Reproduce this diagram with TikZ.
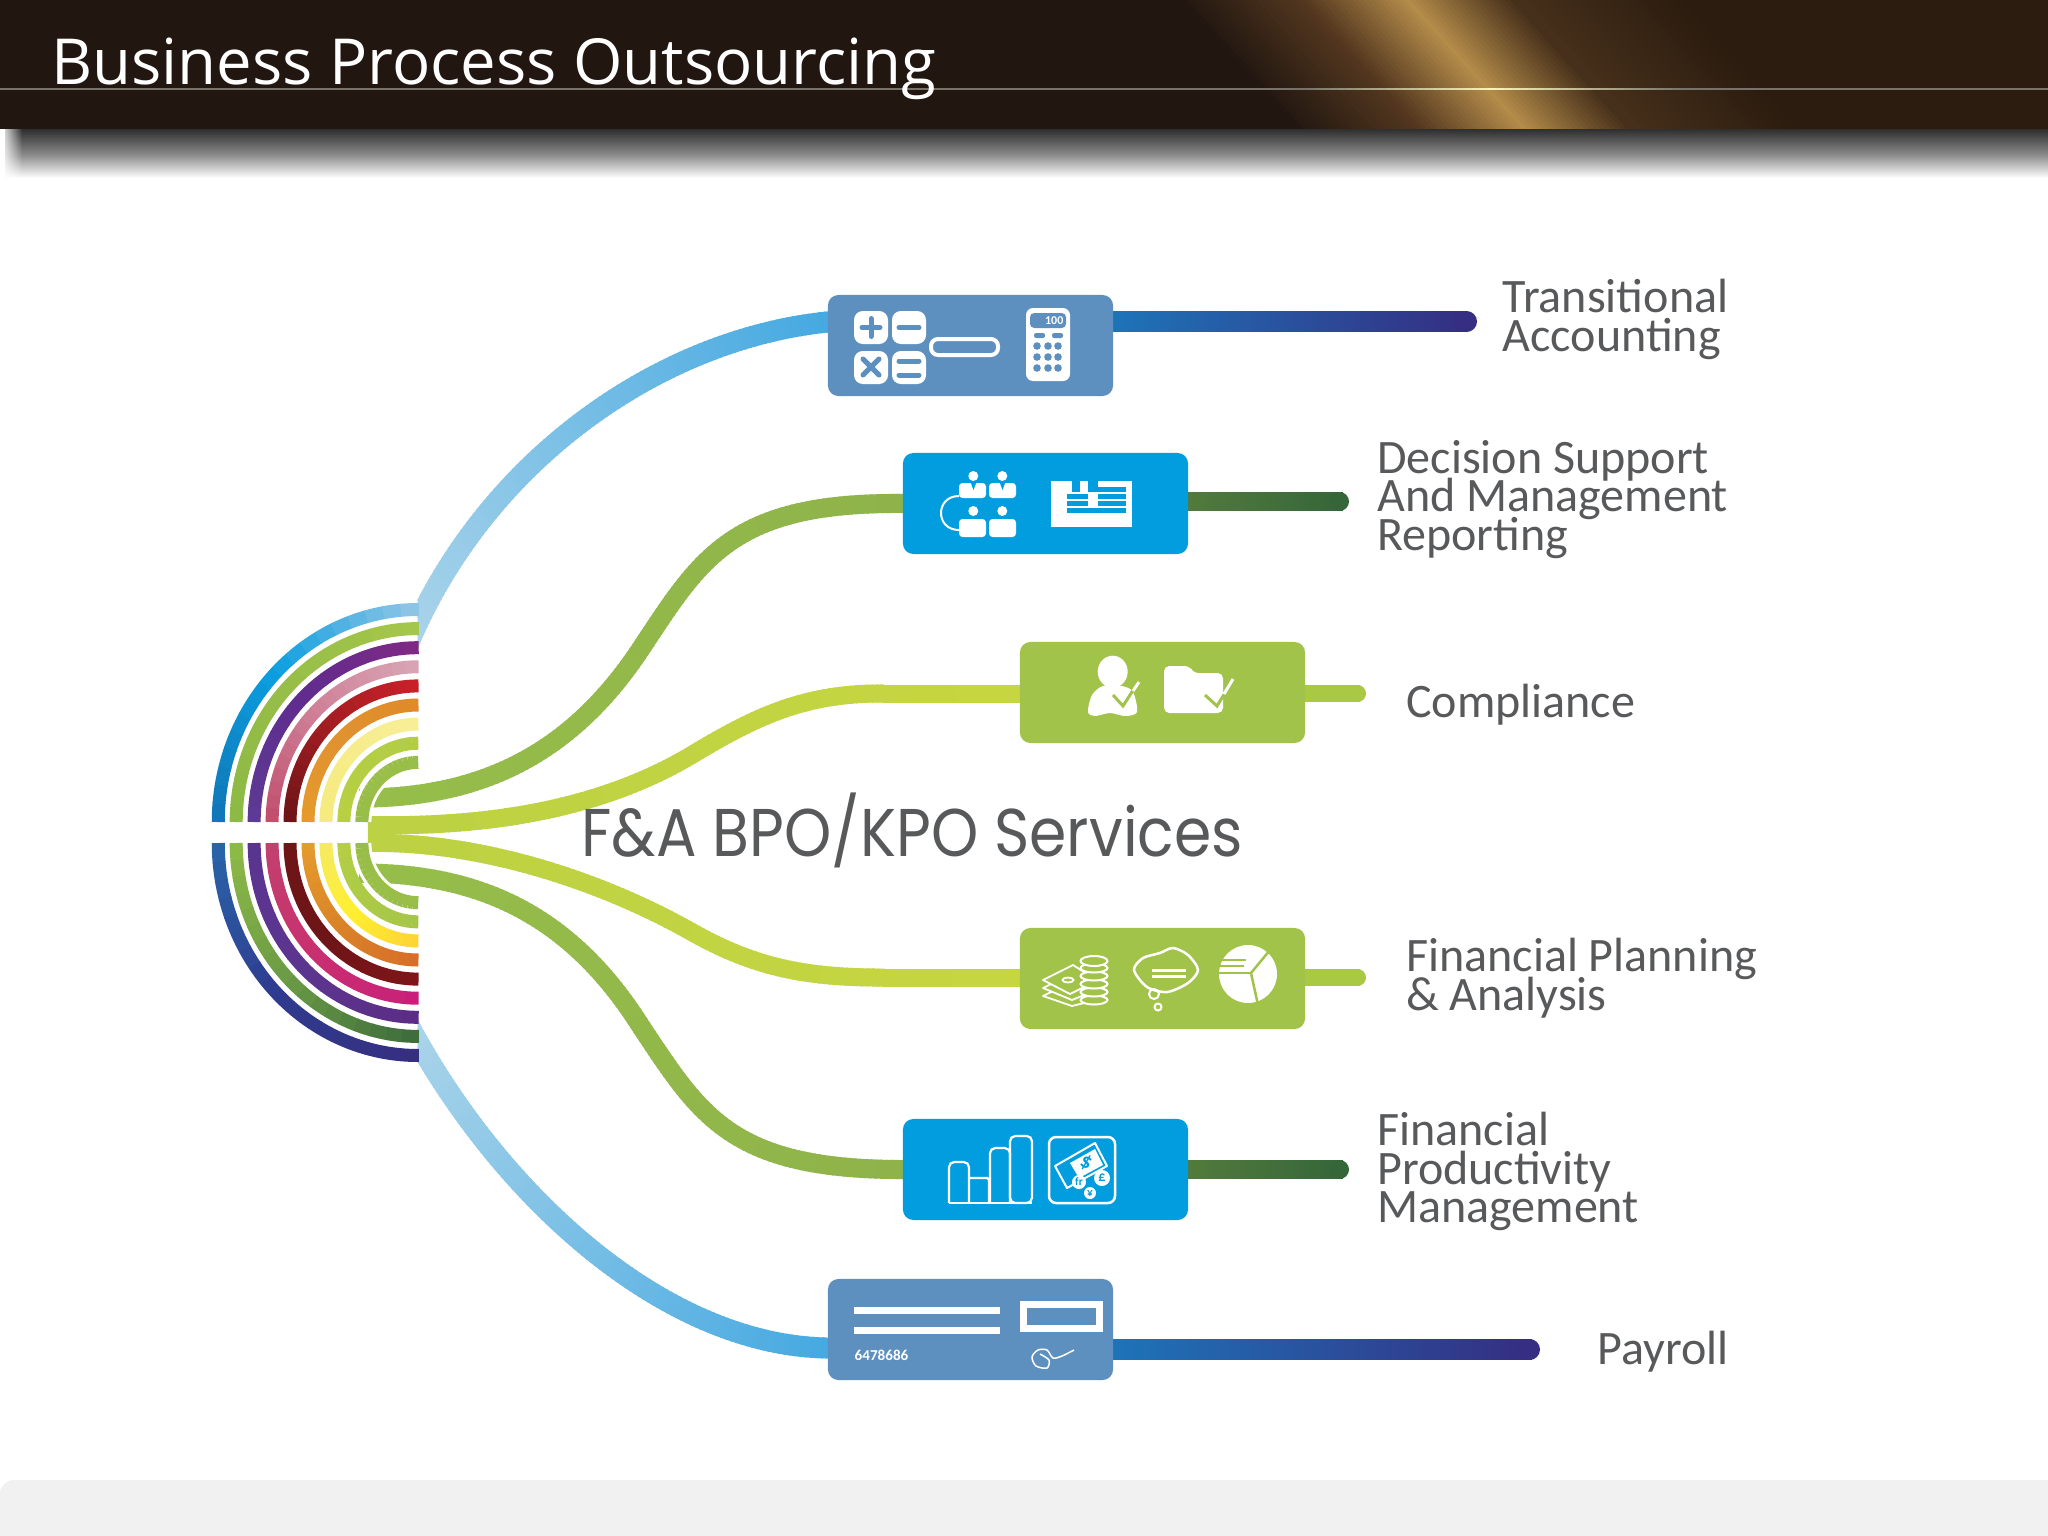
\documentclass[tikz,border=0pt]{standalone}
\usepackage{fontspec}
\setmainfont{Carlito}
\newfontfamily\titlefont{Open Sans}
\newfontfamily\svcfont{Poppins}
\usetikzlibrary{calc, backgrounds, fadings, decorations.markings}

\definecolor{headdark}{HTML}{211710}
\definecolor{headright}{HTML}{2B1C0F}
\definecolor{beamgold}{HTML}{B48C4A}
\definecolor{beambrown}{HTML}{53371F}
\definecolor{beamfall}{HTML}{47301B}
\definecolor{steelbox}{HTML}{5E90BF}
\definecolor{cyanbox}{HTML}{019DDE}
\definecolor{limebox}{HTML}{A2C34A}
\definecolor{labelgray}{HTML}{58595B}
\definecolor{footgray}{HTML}{F1F1F2}
\definecolor{skyL}{HTML}{ADD5EA}
\definecolor{skyR}{HTML}{45A9E1}
\definecolor{grassL}{HTML}{96BE4A}
\definecolor{grassR}{HTML}{8FB34A}
\definecolor{limeL}{HTML}{BCD143}
\definecolor{limeR}{HTML}{C6D640}
\definecolor{navyL}{HTML}{1E73B8}
\definecolor{navyR}{HTML}{352E82}
\definecolor{mossL}{HTML}{527A3C}
\definecolor{mossR}{HTML}{35663A}
\definecolor{stublime}{HTML}{A9C945}
\definecolor{rulegray}{HTML}{77736A}
\definecolor{ruleglow}{HTML}{FBF3B8}

\newcommand{\tightlabel}{\fontsize{13.66}{10.81}\selectfont\lineskiplimit=-20pt\relax}

% one half ring: index, centre y, direction, three colours as hex
\newcommand{\ringband}[6]{%
  \definecolor{ringA}{HTML}{#4}\definecolor{ringB}{HTML}{#5}\definecolor{ringC}{HTML}{#6}%
  \pgfmathsetmacro\ry{212.5-19.1*#1}%
  \pgfmathsetmacro\rx{0.94*\ry}%
  \foreach \st in {0,...,17}{%
    \pgfmathsetmacro\ang{180+#3*5*\st}%
    \pgfmathsetmacro\wa{100*\st/8.5}%
    \pgfmathsetmacro\wb{100*(\st-8.5)/8.5}%
    \ifnum\st<9
      \colorlet{ringmix}{ringB!\wa!ringA}%
    \else
      \colorlet{ringmix}{ringC!\wb!ringB}%
    \fi
    \draw[ringmix, line width=0.13cm]
      ({418+\rx*cos(\ang)},{#2+\ry*sin(\ang)})
      arc[start angle=\ang, delta angle=#3*5.25, x radius=\rx, y radius=\ry];
  }%
}

\begin{document}
\begin{tikzpicture}[
  x=0.01cm, y=0.01cm,
  servicebox/.style = {
    rounded corners=3pt,
    minimum width=2.85cm,
    minimum height=1.01cm,
    inner sep=0pt
  },
  svclabel/.style = {
    anchor=base west,
    align=left,
    inner sep=0pt,
    text=labelgray,
    font=\tightlabel
  },
  gradstroke/.style n args = {3}{
    decorate,
    decoration={markings, mark=between positions 0 and 1 step 1.5pt with {
      \pgfmathsetmacro\mixval{min(100,\pgfkeysvalueof{/pgf/decoration/mark info/distance from start}/\pgfdecoratedpathlength*100)}
      \draw[line width=#3, color=#2!\mixval!#1] (-0.3pt,0) -- (1.8pt,0);
    }}
  }
]
\useasboundingbox (0,0) rectangle (2048,-1536);

% Header band with the gold beam
\fill[headdark] (0,0) rectangle (2048,-129);
\begin{scope}
  \clip (0,0) rectangle (2048,-129);
  \begin{scope}[xslant=-0.907]
    \fill[headright] (1680,0) rectangle (2300,-129);
    \foreach \xa/\xb/\ca/\cb in {1175/1300/headdark/beambrown, 1300/1405/beambrown/beamgold,
        1405/1510/beamgold/beamfall, 1510/1680/beamfall/headright}{
      \foreach \k in {0,...,19}{
        \pgfmathsetmacro\xk{\xa+(\xb-\xa)*\k/20}
        \pgfmathsetmacro\wk{(\xb-\xa)/20+1}
        \pgfmathsetmacro\mk{100*\k/20}
        \fill[\cb!\mk!\ca] (\xk,0) rectangle ++(\wk,-129);
      }
    }
  \end{scope}
\end{scope}
\fill[rulegray] (0,-87.5) rectangle (2048,-90);
\foreach \xa/\xb/\ca/\cb in {1300/1488/rulegray/ruleglow, 1488/1680/ruleglow/rulegray}{
  \foreach \k in {0,...,23}{
    \pgfmathsetmacro\xk{\xa+(\xb-\xa)*\k/24}
    \pgfmathsetmacro\wk{(\xb-\xa)/24+0.5}
    \pgfmathsetmacro\mk{100*\k/24}
    \fill[\cb!\mk!\ca] (\xk,-87.5) rectangle ++(\wk,-2.5);
  }
}

% Shadow under the band
\shade[top color=black!82, bottom color=black!45] (5,-129) rectangle (2048,-155);
\shade[top color=black!45, bottom color=white] (5,-155) rectangle (2048,-178);
\fill[white, path fading=east] (0,-129) rectangle (22,-178);

\node[anchor=base west, inner sep=0pt, text=white,
      font=\titlefont\fontsize{18.05}{22}\selectfont] (title) at (50.5,-84) {Business Process Outsourcing};

% Service boxes
\node[servicebox, fill=steelbox] (TA) at (970.5,-345.5) {};
\node[servicebox, fill=cyanbox] (DS) at (1045.5,-503.5) {};
\node[servicebox, fill=limebox] (CO) at (1162.5,-692.5) {};
\node[servicebox, fill=limebox] (FP) at (1162.5,-978.5) {};
\node[servicebox, fill=cyanbox] (FM) at (1045.5,-1169.5) {};
\node[servicebox, fill=steelbox] (PY) at (970.5,-1329.5) {};

% Free ends of the stubs and rim points on the hub
\coordinate (TAend) at (1466.5,-321.5);
\coordinate (DSend) at (1339.5,-501.5);
\coordinate (COend) at (1357.5,-693.5);
\coordinate (FPend) at (1357.5,-977.5);
\coordinate (FMend) at (1339.5,-1169.5);
\coordinate (PYend) at (1529.5,-1349.5);
\coordinate (hubTA) at (405,-652);
\coordinate (hubDS) at (360,-798);
\coordinate (hubCO) at (369,-825);
\coordinate (hubFP) at (369,-843);
\coordinate (hubFM) at (360,-873);
\coordinate (hubPY) at (405,-1018);

\begin{scope}[on background layer]
  \fill[white] (0,0) rectangle (2048,-1536);
  \fill[footgray, rounded corners=4pt] (0,-1480) rectangle (2060,-1560);

  % Curves from the hub to the boxes
  \begin{scope}
    \clip (417.5,-280) rectangle (900,-1400);
    \path[gradstroke={skyL}{skyR}{0.21cm}] (hubTA)
      .. controls (480,-465) and (655,-340) .. ($(TA.west)+(0,23.5)$);
    \path[gradstroke={skyL}{skyR}{0.21cm}] (hubPY)
      .. controls (495,-1190) and (660,-1345) .. ($(PY.west)+(0,-18.5)$);
  \end{scope}
  \path[gradstroke={grassL}{grassR}{0.19cm}] (hubDS)
    .. controls (480,-798) and (570,-755) .. (640,-650)
    .. controls (700,-560) and (730,-502) .. (DS.west);
  \path[gradstroke={limeL}{limeR}{0.18cm}] (hubCO)
    .. controls (470,-827) and (590,-815) .. (690,-756)
    .. controls (750,-720) and (800,-693.5) .. (880,-693.5)
    -- ($(CO.west)+(0,-1)$);
  \path[gradstroke={limeL}{limeR}{0.18cm}] (hubFP)
    .. controls (470,-841) and (590,-875) .. (690,-931)
    .. controls (750,-965) and (800,-977.5) .. (880,-977.5)
    -- ($(FP.west)+(0,1)$);
  \path[gradstroke={grassL}{grassR}{0.19cm}] (hubFM)
    .. controls (480,-873) and (570,-915) .. (640,-1025)
    .. controls (700,-1115) and (730,-1169.5) .. (FM.west);

  % Stubs from the boxes to the free ends
  \path[gradstroke={navyL}{navyR}{0.21cm}] ($(TA.east)+(0,24)$) -- (TAend);
  \fill[navyR] (TAend) circle (10.5);
  \path[gradstroke={mossL}{mossR}{0.19cm}] ($(DS.east)+(0,2)$) -- (DSend);
  \fill[mossR] (DSend) circle (9.5);
  \path[gradstroke={stublime}{stublime}{0.17cm}] ($(CO.east)+(0,-1)$) -- (COend);
  \fill[stublime] (COend) circle (8.5);
  \path[gradstroke={stublime}{stublime}{0.17cm}] ($(FP.east)+(0,1)$) -- (FPend);
  \fill[stublime] (FPend) circle (8.5);
  \path[gradstroke={mossL}{mossR}{0.19cm}] (FM.east) -- (FMend);
  \fill[mossR] (FMend) circle (9.5);
  \path[gradstroke={navyL}{navyR}{0.21cm}] ($(PY.east)+(0,-20)$) -- (PYend);
  \fill[navyR] (PYend) circle (10.5);
\end{scope}

% Hub rings
\draw[white, line width=0.19cm] (361.9,-822) arc[start angle=180, end angle=90, x radius=56.1, y radius=59.7];
\draw[white, line width=0.19cm] (361.9,-843) arc[start angle=180, end angle=270, x radius=56.1, y radius=59.7];
\foreach \i/\ca/\cb/\cc in {0/1078B8/0B9FDF/8CC4E6, 1/8DB946/97BE48/A4C64A, 2/5D3A93/5F2C8E/7E2A85,
    3/C0506E/CF8097/D8A4B4, 4/6E1518/A31E22/C8202A, 5/E59A2C/E09230/E08A28,
    6/F5EB7E/F6EC8A/F7EE98, 7/B8D040/B4CE44/B2CC46, 8/98BE48/9ABF48/98BE48}{
  \ringband{\i}{-822}{-1}{\ca}{\cb}{\cc}
}
\foreach \i/\ca/\cb/\cc in {0/2A64A8/2F3B8F/362F80, 1/8DB946/6A9A45/3F6E3C, 2/5A3590/5C3590/5B2D86,
    3/C2406E/C8306F/C8207A, 4/6E1518/6E1518/7E1518, 5/E59A2C/D98328/D86E28,
    6/F5EA60/FFEF30/FDD535, 7/B4CE45/ACCA46/A6C648, 8/98BE48/9ABF48/98BE48}{
  \ringband{\i}{-843}{1}{\ca}{\cb}{\cc}
}

% Icons: accounting
\foreach \x/\y in {854/311, 892/311, 854/351, 892/351}
  \fill[white, rounded corners=2.5pt] (\x,-\y) rectangle ++(34,-33);
\draw[steelbox, line width=0.05cm, line cap=round] (862,-327.5) -- (880,-327.5) (871,-318.5) -- (871,-336.5);
\draw[steelbox, line width=0.05cm, line cap=round] (899,-327.5) -- (919,-327.5);
\draw[steelbox, line width=0.05cm, line cap=round] (863,-359) -- (879,-375) (863,-375) -- (879,-359);
\draw[steelbox, line width=0.05cm, line cap=round] (899,-361) -- (919,-361) (899,-375) -- (919,-375);
\draw[white, line width=0.04cm, rounded corners=2pt] (931,-339) rectangle (998,-355);
\fill[white, rounded corners=2pt] (1026,-308) rectangle (1070,-381);
\fill[steelbox, rounded corners=1.2pt] (1030,-313) rectangle (1066,-328);
\node[inner sep=0pt, text=white, font=\bfseries\fontsize{3.4}{4}\selectfont, anchor=east] (hundred) at (1064,-321) {100};
\fill[steelbox, rounded corners=0.6pt] (1034,-333) rectangle (1045,-338);
\fill[steelbox, rounded corners=0.6pt] (1052,-333) rectangle (1063,-338);
\foreach \x in {1037,1048,1058}
  \foreach \y in {346,357,368}
    \fill[steelbox] (\x,-\y) circle (3.8);

% Icons: decision support
\foreach \x/\y in {973.3/476, 1002.3/476, 973.3/511, 1002.3/511}
  \fill[white] (\x,-\y) circle (5);
\foreach \x in {959,989}{
  \fill[white, rounded corners=1pt] (\x,-483) rectangle ++(27,-15);
  \fill[white, rounded corners=1pt] (\x,-519) rectangle ++(27,-18);
}
\fill[cyanbox] (970.5,-482) -- (976.5,-482) -- (973.5,-490) -- cycle;
\fill[cyanbox] (999.5,-482) -- (1005.5,-482) -- (1002.5,-490) -- cycle;
\draw[white, line width=0.02cm] (959,-496) .. controls (935,-496) and (935,-530) .. (959,-530);
\fill[white] (1051,-481) rectangle (1132,-527);
\foreach \y in {487,494,501,508}
  \fill[cyanbox] (1067,-\y) rectangle (1126,-\y-5);
\fill[cyanbox] (1072,-481) rectangle (1080,-487);
\fill[cyanbox] (1088,-481) rectangle (1098,-487);
\fill[white] (1088,-492) rectangle (1098,-508);
\fill[white] (1080,-487) rectangle (1088,-492);
\fill[white] (1067,-487) rectangle (1072,-492);

% Icons: compliance
\fill[white] (1112.7,-671.7) ellipse (15 and 16);
\fill[white] plot[smooth cycle] coordinates {(1088,-712) (1092,-695) (1103,-686) (1122,-686) (1133,-692) (1137,-712) (1125,-716) (1110,-713) (1095,-716)};
\draw[limebox, line width=0.03cm] (1113,-695) -- (1123,-706) -- (1137,-684);
\draw[white, line width=0.03cm] (1133,-691) -- (1139,-682);
\fill[white, rounded corners=1.5pt] (1164,-666) -- (1190,-666) -- (1193,-673) -- (1223,-673) -- (1223,-713) -- (1164,-713) -- cycle;
\draw[limebox, line width=0.03cm] (1205,-695) -- (1217,-706) -- (1228,-688);
\draw[white, line width=0.03cm] (1224,-694) -- (1233,-679);

% Icons: planning
\draw[white, line width=0.018cm, fill=limebox, line join=round] (1043,-996) -- (1073,-981) -- (1084,-988) -- (1084,-1003) -- (1072,-1006) -- cycle;
\draw[white, line width=0.018cm, fill=limebox, line join=round] (1043,-988) -- (1073,-973) -- (1084,-980) -- (1084,-995) -- (1072,-1000) -- cycle;
\draw[white, line width=0.018cm, fill=limebox, line join=round] (1043,-980) -- (1073,-965) -- (1084,-972) -- (1084,-987) -- (1070,-994) -- cycle;
\draw[white, line width=0.018cm] (1068,-980) ellipse (5.5 and 2.5);
\foreach \y in {1000,992,...,968}
  \draw[white, line width=0.02cm, fill=limebox] (1094,-\y) ellipse (13.5 and 4.5);
\draw[white, line width=0.02cm, fill=limebox] (1094,-961) ellipse (13.5 and 5);
\draw[white, line width=0.025cm] plot[smooth cycle] coordinates {(1134,-970) (1143,-958) (1160,-953) (1173,-948) (1188,-955) (1198,-970) (1188,-983) (1167,-992) (1147,-987)};
\draw[white, line width=0.03cm] (1152,-970) -- (1186,-970) (1152,-976) -- (1186,-976);
\draw[white, line width=0.02cm] (1154,-994) circle (5) (1158,-1007) circle (3.5);
\fill[white] (1248,-974) circle (29);
\draw[limebox, line width=0.025cm] (1270,-950) -- (1251,-973) -- (1258,-1005);
\draw[limebox, line width=0.02cm] (1251,-973) -- (1218,-973);
\draw[limebox, line width=0.015cm] (1220,-960) -- (1246,-960) (1220,-966) -- (1244,-966);

% Icons: productivity
\draw[white, line width=0.022cm, rounded corners=1.5pt] (949,-1203) -- (949,-1162) -- (969,-1162) -- (969,-1203);
\draw[white, line width=0.022cm, rounded corners=0.5pt] (969,-1178) -- (989,-1178) -- (989,-1203);
\draw[white, line width=0.022cm, rounded corners=1.5pt] (990,-1203) -- (990,-1148) -- (1010,-1148) -- (1010,-1203);
\draw[white, line width=0.022cm, rounded corners=1.5pt] (1010,-1203) -- (1010,-1136) -- (1032,-1136) -- (1032,-1203) -- cycle;
\draw[white, line width=0.022cm] (949,-1203) -- (1032,-1203);
\draw[white, line width=0.025cm, rounded corners=2pt] (1049,-1137) rectangle (1115,-1203);
\draw[white, line width=0.02cm, line join=round] (1055,-1166) -- (1095,-1143) -- (1107,-1166) -- (1067,-1188) -- cycle;
\fill[white] (1070,-1163) -- (1095,-1149) -- (1103,-1165) -- (1079,-1178) -- cycle;
\node[inner sep=0pt, text=cyanbox, rotate=-25, font=\bfseries\fontsize{6}{7}\selectfont] (dollar) at (1086,-1163) {\$};
\fill[white] (1079,-1182) circle (7);
\fill[white] (1102,-1178) circle (8);
\fill[white] (1090,-1193) circle (6);
\node[inner sep=0pt, text=cyanbox, font=\bfseries\fontsize{3.2}{4}\selectfont] (franc) at (1079,-1182) {fr};
\node[inner sep=0pt, text=cyanbox, font=\bfseries\fontsize{4}{5}\selectfont] (pound) at (1102,-1178) {£};
\node[inner sep=0pt, text=cyanbox, font=\bfseries\fontsize{3.2}{4}\selectfont] (yen) at (1090,-1193) {¥};

% Icons: payroll
\fill[white] (854,-1307) rectangle (1000,-1314);
\fill[white] (854,-1327) rectangle (1000,-1334);
\draw[white, line width=0.067cm] (1023.5,-1304.5) rectangle (1099.5,-1328.5);
\node[anchor=base west, inner sep=0pt, text=white, font=\bfseries\fontsize{4.3}{5}\selectfont] (chequeno) at (854,-1360) {6478686};
\draw[white, line width=0.015cm] plot[smooth] coordinates {(1074,-1350) (1062,-1356) (1053,-1358) (1047,-1350) (1038,-1350) (1032,-1357) (1036,-1366) (1047,-1368) (1049,-1360) (1040,-1354)};

% Labels
\node[svclabel] (lblTA) at (1502,-351) {Transitional\\Accounting};
\node[svclabel] (lblDS) at (1376.5,-550) {Decision Support\\And Management\\Reporting};
\node[svclabel] (lblCO) at (1405.5,-717.7) {Compliance};
\node[svclabel] (lblFP) at (1405.5,-1010) {Financial Planning\\\& Analysis};
\node[svclabel] (lblFM) at (1376.5,-1222) {Financial\\Productivity\\Management};
\node[svclabel] (lblPY) at (1597,-1364) {Payroll};

\node[anchor=base west, inner sep=0pt, text=labelgray, xscale=0.89, transform shape,
      font=\svcfont\fontsize{19.2}{23}\selectfont] (services) at (581,-856) {F\&A BPO/KPO Services};

\end{tikzpicture}
\end{document}
